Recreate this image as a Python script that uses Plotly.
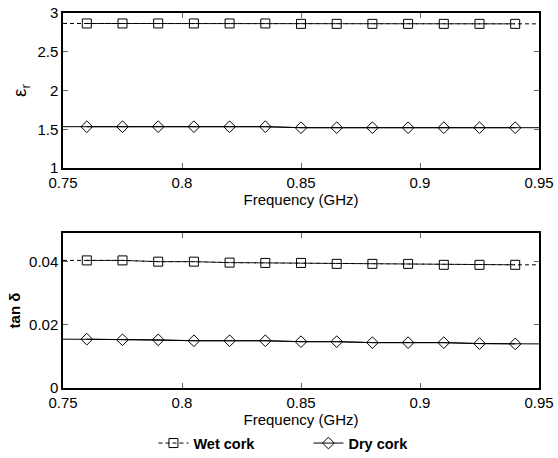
import plotly.graph_objects as go
from plotly.subplots import make_subplots

freq = [0.76, 0.775, 0.79, 0.805, 0.82, 0.835, 0.85, 0.865, 0.88, 0.895, 0.91, 0.925, 0.94]
line_freq = [0.75] + freq + [0.95]

wet_eps = [2.865, 2.865, 2.865, 2.865, 2.865, 2.865, 2.86, 2.86, 2.86, 2.86, 2.86, 2.86, 2.86]
dry_eps = [1.533, 1.533, 1.533, 1.533, 1.533, 1.533, 1.52, 1.52, 1.52, 1.52, 1.52, 1.52, 1.52]
wet_tan = [0.0405, 0.0405, 0.0401, 0.0401, 0.0398, 0.0397, 0.0397, 0.0394, 0.0394, 0.0394, 0.0391, 0.0391, 0.0391]
dry_tan = [0.0155, 0.0153, 0.0153, 0.0150, 0.0150, 0.0150, 0.0147, 0.0147, 0.0144, 0.0144, 0.0144, 0.0141, 0.0140]

wet_eps_line = [wet_eps[0]] + wet_eps + [wet_eps[-1]]
dry_eps_line = [dry_eps[0]] + dry_eps + [dry_eps[-1]]
wet_tan_line = [wet_tan[0]] + wet_tan + [wet_tan[-1]]
dry_tan_line = [dry_tan[0]] + dry_tan + [dry_tan[-1]]

series_names = ["Wet cork", "Dry cork"]
x_ticks = [0.75, 0.8, 0.85, 0.9, 0.95]
x_tick_text = ["0.75", "0.8", "0.85", "0.9", "0.95"]
eps_ticks = [1, 1.5, 2, 2.5, 3]
tan_ticks = [0, 0.02, 0.04]

fig = make_subplots(rows=2, cols=1, vertical_spacing=0.1733)

DASH = "4px,3px"

def add(row, xs_line, ys_line, xs, ys, dash, symbol, name, show):
    fig.add_trace(go.Scatter(x=xs_line, y=ys_line, mode="lines",
                             line=dict(color="black", width=1, dash=dash),
                             showlegend=False, hoverinfo="skip"), row=row, col=1)
    fig.add_trace(go.Scatter(x=xs, y=ys, mode="lines+markers", name="<b>" + name + "</b>",
                             line=dict(color="black", width=1, dash=dash),
                             marker=dict(symbol=symbol, size=9, color="black",
                                         line=dict(width=1, color="black")),
                             showlegend=show), row=row, col=1)

add(1, line_freq, wet_eps_line, freq, wet_eps, DASH, "square-open", series_names[0], True)
add(1, line_freq, dry_eps_line, freq, dry_eps, "solid", "diamond-open", series_names[1], True)
add(2, line_freq, wet_tan_line, freq, wet_tan, DASH, "square-open", series_names[0], False)
add(2, line_freq, dry_tan_line, freq, dry_tan, "solid", "diamond-open", series_names[1], False)

font = "Liberation Sans, Arial, sans-serif"
axis_common = dict(showline=True, linecolor="black", linewidth=1.5, mirror="ticks",
                   ticks="inside", ticklen=5, tickcolor="#666", showgrid=False,
                   zeroline=False, tickfont=dict(size=15, color="black", family=font))

for r in (1, 2):
    fig.update_xaxes(range=[0.75, 0.95], tickvals=x_ticks, ticktext=x_tick_text,
                     title=dict(text="Frequency (GHz)", font=dict(size=15, color="black", family=font), standoff=1),
                     row=r, col=1, **axis_common)

fig.update_yaxes(range=[1, 3], tickvals=eps_ticks, ticktext=["1", "1.5", "2", "2.5", "3"],
                 title=dict(text="ε<sub>r</sub>", font=dict(size=19, color="black", family=font), standoff=6),
                 row=1, col=1, **axis_common)
fig.update_yaxes(range=[0, 0.0492], tickvals=tan_ticks, ticktext=["0", "0.02", "0.04"],
                 title=dict(text="<b>tan δ</b>", font=dict(size=15, color="black", family=font), standoff=5),
                 row=2, col=1, **axis_common)

fig.update_layout(
    width=558, height=458,
    margin=dict(l=63, r=19, t=13, b=70, autoexpand=False),
    paper_bgcolor="white", plot_bgcolor="white",
    font=dict(family=font, color="black"),
    legend=dict(orientation="h", x=0.19, xanchor="left", y=-0.147, yanchor="middle",
                font=dict(size=14.5, color="black", family=font), bgcolor="rgba(0,0,0,0)",
                entrywidth=110, tracegroupgap=0),
)

fig.write_html("out.html")
